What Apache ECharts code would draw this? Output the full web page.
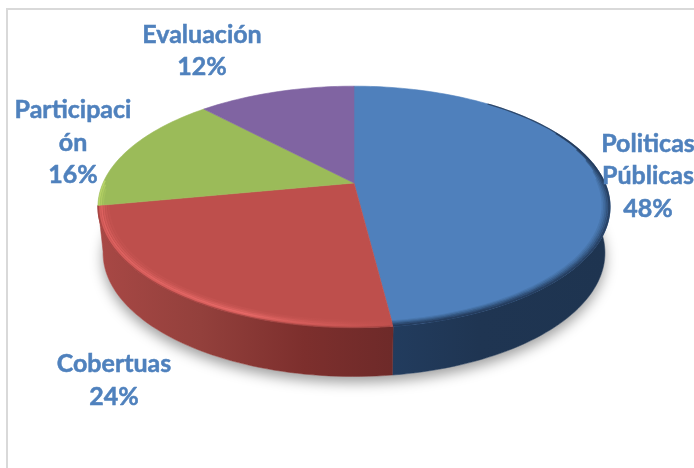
<!DOCTYPE html>
<html>
<head>
<meta charset="utf-8">
<style>html,body{margin:0;padding:0;background:#fff}#c{width:694px;height:468px}</style>
<script src="https://cdn.jsdelivr.net/npm/echarts@6/dist/echarts.min.js"></script>
</head>
<body>
<div id="c"></div>
<script>
const categories = ['Politicas\nPúblicas', 'Cobertuas', 'Participaci\nón', 'Evaluación'];
const values = [48, 24, 16, 12];
const topColors = ['#4F80BC', '#BE4F4C', '#9BBB59', '#8064A2'];
const labelCenters = [[648, 176], [114, 380.5], [73, 142.5], [202, 51]];

const total = values.reduce((a, b) => a + b, 0);
const starts = [];
values.reduce((acc, v, i) => { starts[i] = acc; return acc + v; }, 0);
const angleOf = v => v / total * 360;

// Perspective view of the disc: clockwise degrees from 12 o'clock, r in 0..1
const K = -0.198, CX = 354, CY = 183, SX = 251, SY = 116;
function topPt(deg, r) {
  const a = deg * Math.PI / 180, u = r * Math.sin(a), v = -r * Math.cos(a), w = 1 + K * v;
  return [CX + SX * u / w, CY + SY * v / w];
}
function basePt(deg) {
  const p = topPt(deg, 1);
  return [CX + (p[0] - CX) * 0.98, p[1] * 1.024 + 41];
}
function arc(from, to, fn) {
  const pts = [], n = Math.max(2, Math.ceil(Math.abs(to - from) / 1.5));
  for (let i = 0; i <= n; i++) pts.push(fn(from + (to - from) * i / n));
  return pts;
}
const hgrad = (x1, x2, stops) => ({
  type: 'linear', global: true, x: x1, y: 0, x2: x2, y2: 0,
  colorStops: stops.map(s => ({ offset: s[0], color: s[1] }))
});
const sideFill = [
  hgrad(392, 610, [[0, '#223C5E'], [0.4, '#1F3552'], [1, '#1E3450']]),
  hgrad(98, 392, [[0, '#A84845'], [0.35, '#93403C'], [0.7, '#7D2F2D'], [1, '#6E2A29']])
];
const slice = (api) => {
  const v = api.value(0), s = api.value(1);
  return { i: api.value(2), from: angleOf(s), to: angleOf(s + v) };
};
const rows = values.map((v, i) => [v, starts[i], i]);

function renderShadow() {
  return {
    type: 'polygon', shape: { points: arc(0, 360, basePt) },
    style: { fill: '#fff', shadowBlur: 13, shadowOffsetY: 6, shadowColor: 'rgba(0,0,0,0.38)' }
  };
}
function renderSide(p, api) {
  const s = slice(api);
  if (!sideFill[s.i]) return { type: 'group', children: [] };
  const a = Math.max(s.from, 80), b = s.to;
  const pts = arc(a, b, d => topPt(d, 1)).concat(arc(b, a, basePt));
  return { type: 'polygon', shape: { points: pts }, style: { fill: sideFill[s.i], stroke: sideFill[s.i], lineWidth: 0.5 } };
}
function renderTop(p, api) {
  const s = slice(api);
  const pts = [topPt(0, 0)].concat(arc(s.from, s.to, d => topPt(d, 1)));
  return { type: 'polygon', shape: { points: pts }, style: { fill: topColors[s.i], stroke: topColors[s.i], lineWidth: 0.6 } };
}
function renderRim(p, api) {
  const s = slice(api), c = [];
  const line = (a, b, r, stroke, w) => c.push({
    type: 'polyline', shape: { points: arc(a, b, d => topPt(d, r)) },
    style: { fill: null, stroke, lineWidth: w || 1.6 }
  });
  if (s.i === 0) {
    line(38, s.to, 0.999, 'rgba(32,54,84,0.8)', 1.2);
    line(62, s.to, 0.995, 'rgba(32,54,84,0.8)');
    line(72, s.to, 0.989, 'rgba(32,54,84,0.62)');
    line(78, s.to, 0.983, 'rgba(32,54,84,0.42)');
    line(84, s.to, 0.977, 'rgba(32,54,84,0.25)');
    line(88, s.to, 0.971, 'rgba(32,54,84,0.12)');
  } else if (s.i === 1) {
    const g = a => hgrad(98, 392, [[0, `rgba(226,100,98,${a})`], [0.5, `rgba(236,108,106,${a})`], [0.85, `rgba(214,92,90,${a * 0.55})`], [1, `rgba(200,84,82,${a * 0.2})`]]);
    line(s.from + 0.5, s.to, 0.999, 'rgba(150,60,58,0.55)');
    line(s.from + 0.5, s.to, 0.992, g(0.6));
    line(s.from + 0.5, s.to, 0.985, g(0.85));
    line(s.from + 0.5, s.to, 0.977, g(0.55));
    line(s.from + 1, s.to, 0.969, g(0.28));
    line(s.from + 1, s.to, 0.96, g(0.12));
  } else if (s.i === 2) {
    line(s.from, s.from + 12, 0.996, 'rgba(186,214,104,0.9)');
    line(s.from, s.from + 10, 0.988, 'rgba(186,214,104,0.6)');
    line(s.from, s.from + 8, 0.98, 'rgba(186,214,104,0.25)');
  }
  return { type: 'group', children: c };
}
function renderLabel(p, api) {
  const i = api.value(2);
  return {
    type: 'text',
    style: {
      text: categories[i] + '\n' + api.value(0) + '%',
      x: labelCenters[i][0], y: labelCenters[i][1],
      align: 'center', verticalAlign: 'middle',
      font: 'bold 25px Lato', lineHeight: 32.5, fill: '#4F81BD',
      stroke: '#4F81BD', lineWidth: 0.5
    }
  };
}
const layer = (renderItem, z, data) => ({
  type: 'custom', coordinateSystem: 'none', renderItem, z, silent: true, animation: false,
  clip: false, data: data || rows, encode: {}
});

const chart = echarts.init(document.getElementById('c'), null, { renderer: 'canvas' });
chart.setOption({
  backgroundColor: '#ffffff',
  animation: false,
  graphic: [{
    type: 'rect', z: 0, silent: true,
    shape: { x: 7, y: 9, width: 720, height: 500 },
    style: { fill: '#fff', stroke: '#D9D9D9', lineWidth: 2 }
  }],
  series: [
    layer(renderShadow, 1, [rows[0]]),
    layer(renderSide, 2),
    layer(renderTop, 3),
    layer(renderRim, 4),
    layer(renderLabel, 5)
  ]
});
</script>
</body>
</html>
